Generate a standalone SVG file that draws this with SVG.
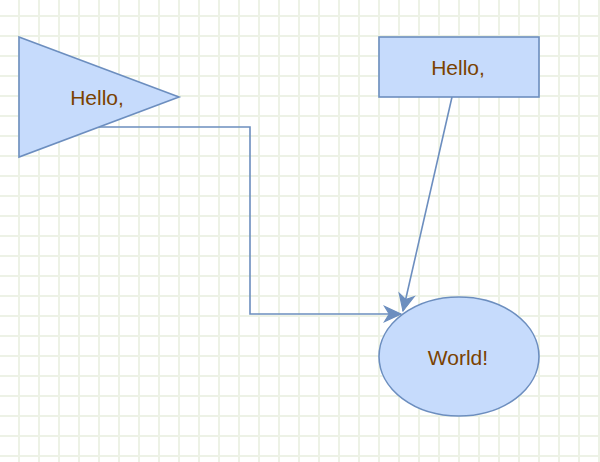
<svg xmlns="http://www.w3.org/2000/svg" width="600" height="462" viewBox="0 0 600 462">
  <style>
    .shape { fill: #c6dbfc; stroke: #6c8ebf; stroke-width: 1.6; }
    .label { font-family: "Liberation Sans", Arial, sans-serif; font-size: 21px; fill: #7a4200; text-anchor: middle; }
    .edge { fill: none; stroke: #6c8ebf; stroke-width: 1.6; }
  </style>
  <defs>
    <pattern id="grid" width="20" height="20" patternUnits="userSpaceOnUse">
      <rect x="18" y="0" width="2" height="20" fill="#edf2e6"/>
      <rect x="0" y="15" width="20" height="2" fill="#edf2e6"/>
    </pattern>
    <marker id="arrow" markerUnits="userSpaceOnUse" markerWidth="20" markerHeight="20" viewBox="-16 -8 17 16" refX="0" refY="0" orient="auto">
      <path d="M0,0 L-14,-6.5 L-10,0 L-14,6.5 Z" fill="#6c8ebf" stroke="#6c8ebf" stroke-width="1"/>
    </marker>
  </defs>

  <!-- background with grid -->
  <rect width="600" height="462" fill="#ffffff"/>
  <rect width="600" height="462" fill="url(#grid)"/>

  <!-- connectors -->
  <g id="connectors">
    <path class="edge" d="M99,127 H250 V314 H401" marker-end="url(#arrow)"/>
    <path class="edge" d="M452,97 L403,311" marker-end="url(#arrow)"/>
  </g>

  <!-- triangle node -->
  <g id="node-triangle">
    <polygon class="shape" points="19,37 179,97 19,157"/>
    <text class="label" x="97" y="104.5">Hello,</text>
  </g>

  <!-- rectangle node -->
  <g id="node-rect">
    <rect class="shape" x="379" y="37" width="160" height="60"/>
    <text class="label" x="458" y="74.5">Hello,</text>
  </g>

  <!-- ellipse node -->
  <g id="node-ellipse">
    <ellipse class="shape" cx="459" cy="356.5" rx="80" ry="59.5"/>
    <text class="label" x="458" y="364.5">World!</text>
  </g>
</svg>
